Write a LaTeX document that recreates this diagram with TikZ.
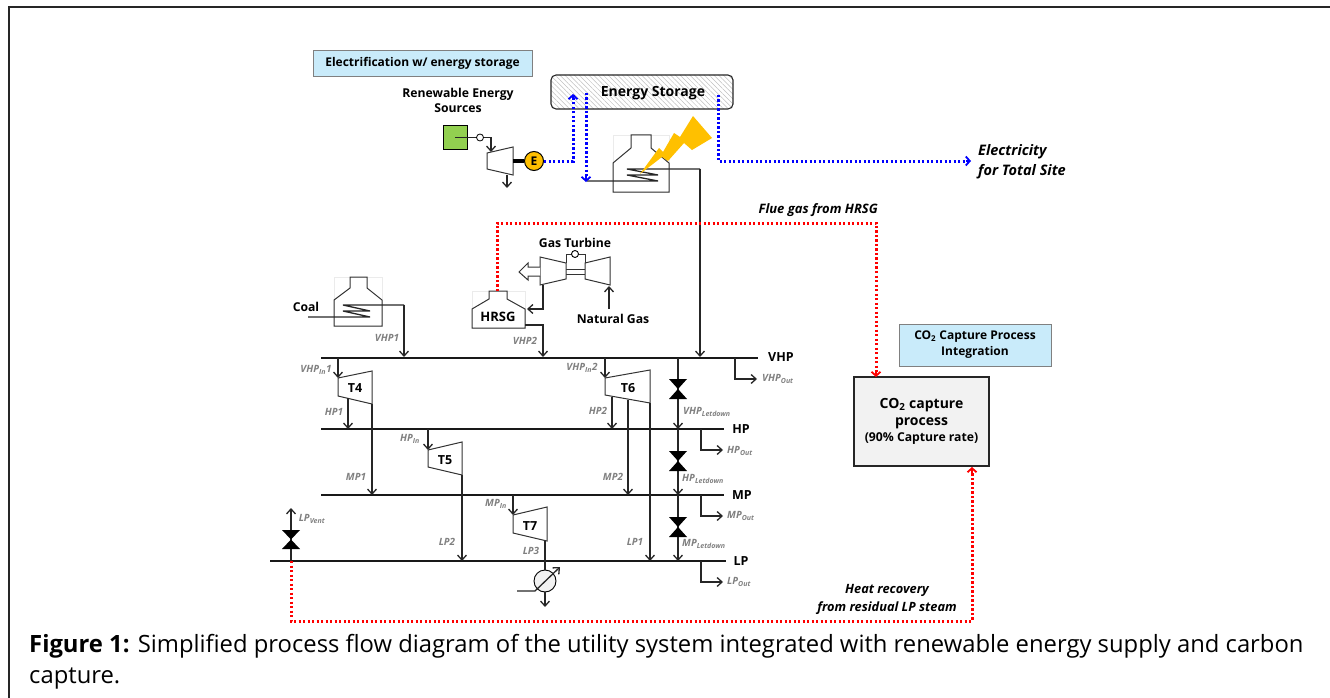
\documentclass[tikz,border=0pt]{standalone}
\usepackage{fontspec}
\setmainfont{Open Sans}
\usetikzlibrary{arrows.meta,patterns.meta}
\definecolor{bannerblue}{HTML}{C9EBFA}
\definecolor{sparkyellow}{HTML}{FFC000}
\definecolor{renewgreen}{HTML}{92D050}
\tikzset{
  steam/.style={line width=1.3pt, black!85},
  bus/.style={line width=2.6pt, black!90},
  unit/.style={line width=1pt, black!80, fill=white},
  frameline/.style={line width=0.4pt, black!8},
  bluelink/.style={draw=blue, line width=3pt, dash pattern=on 2.3pt off 2.2pt},
  redlink/.style={draw=red, line width=3pt, dash pattern=on 2.3pt off 2.2pt},
  banner/.style={draw=gray, line width=0.8pt, fill=bannerblue, font=\fontsize{12}{16}\selectfont\bfseries, align=center},
  unitlabel/.style={font=\fontsize{12.2}{15}\selectfont\bfseries, align=center, inner sep=0pt},
  buslabel/.style={font=\fontsize{12.5}{15}\selectfont\bfseries, inner sep=0pt},
  stream/.style={font=\fontsize{10}{12}\selectfont\bfseries\itshape, text=gray, inner sep=0pt},
  note/.style={font=\fontsize{14.5}{20}\selectfont\bfseries\itshape, align=center, inner sep=0pt},
  valve/.style={fill=black, draw=none}
}
\begin{document}
\begin{tikzpicture}[x=1pt, y=-1pt, >={Straight Barb[length=5pt, width=9pt, line width=1.3pt]}]
    \useasboundingbox (0,0) rectangle (1330,698);

    % Outer frame
    \coordinate (frametop) at (1330,7);
    \coordinate (framecorner) at (9,7);
    \coordinate (framebottom) at (9,698);
    \draw[line width=2pt, black!85] (frametop) -- (framecorner) -- (framebottom);

    % Banners
    \node[banner, minimum width=219pt, minimum height=26pt] (elecbanner) at (422.5,63) {Electrification w/ energy storage};
    \node[banner, minimum width=152pt, minimum height=42pt, inner sep=0pt] (capbanner) at (975,345) {CO\textsubscript{2} Capture Process\\Integration};

    % Energy storage
    \draw[line width=1.1pt, black!85, rounded corners=5pt, pattern={Lines[angle=-45,distance=3.4pt,line width=0.5pt]}, pattern color=gray!50]
        (551,75) rectangle (733,109);
    \node[font=\fontsize{14}{18}\selectfont\bfseries, inner sep=0pt] (storage) at (653,93) {Energy Storage};

    % Renewable source and turbine
    \node[unitlabel] (renewtxt) at (458,100) {Renewable Energy\\Sources};
    \node[draw, line width=0.8pt, fill=renewgreen, minimum size=24pt, inner sep=0pt] (renew) at (455,137.5) {};
    \node[draw, line width=0.8pt, circle, fill=white, minimum size=7pt, inner sep=0pt] (renewknob) at (480,137.5) {};
    \draw[unit] (487,153) coordinate (rtin) -- (513,147) -- (513,175) -- (487,169) -- cycle;
    \coordinate (rtinlet) at (491,152);
    \coordinate (rtout) at (507,175);
    \coordinate (rtdrain) at (507,188);
    \draw[steam] (renew.center) -- (renewknob);
    \draw[steam, ->] (renewknob) -| (rtinlet);
    \draw[steam, ->] (rtout) -- (rtdrain);
    \node[draw, line width=1pt, circle, fill=sparkyellow, minimum size=19pt, inner sep=0pt, font=\fontsize{12}{14}\selectfont\bfseries] (gen) at (534,161) {E};
    \coordinate (rtshaft) at (513,161);
    \draw[line width=4pt] (rtshaft) -- (gen);

    % Electric boiler
    \draw[frameline] (613,135) rectangle (669,192);
    \draw[unit, fill=none] (613,192) -- (613,163) -- (631,148) -- (631,135) -- (651,135) -- (651,148) -- (669,163) -- (669,192) -- cycle;
    \coordinate (boilerin) at (587,181);
    \coordinate (boilerout) at (700,169);
    \coordinate (boilerdown) at (700,357);
    \draw[steam, line join=bevel] (boilerin) -- (658,181) -- (627,175) -- (658,175) -- (627,169) -- (boilerout);
    \draw[steam, ->] (boilerout) -- (boilerdown);
    \fill[sparkyellow] (640,174) -- (659,148) -- (663,152) -- (674,133) -- (680,137) -- (693,116) -- (712,138) -- (692,150) -- (684,143) -- (668,161) -- (662,157) -- cycle;

    % Electricity links
    \coordinate (storein) at (573,95);
    \coordinate (storeout) at (586,93);
    \coordinate (storesite) at (718,95);
    \coordinate (sitehead) at (971,161);
    \draw[bluelink] (gen.east) -| (storein);
    \draw[bluelink] (storeout) -- (586,178);
    \draw[bluelink] (storesite) |- (sitehead);
    \draw[blue, line width=1.8pt, {Straight Barb[length=4pt, width=9pt]}-] (573,94) -- (573,100);
    \draw[blue, line width=1.8pt, -{Straight Barb[length=4pt, width=9pt]}] (586,176) -- (586,182);
    \draw[blue, line width=1.8pt, -{Straight Barb[length=4pt, width=9pt]}] (966,161) -- (sitehead);
    \node[note, align=left, anchor=west] (sitetxt) at (978,162) {Electricity\\for Total Site};

    % Flue gas
    \node[note, anchor=east, font=\fontsize{13}{15}\selectfont\bfseries\itshape] (fluetxt) at (878,210) {Flue gas from HRSG};

    % Gas turbine
    \node[unitlabel] (gttxt) at (575,243) {Gas Turbine};
    \draw[unit] (566,263) -- (566,254) -- (585,254) -- (585,263);
    \draw[unit] (566,269.5) -- (585,269.5);
    \draw[unit] (566,274.5) -- (585,274.5);
    \draw[unit] (540,257) -- (566,263) -- (566,279) -- (540,285) -- cycle;
    \draw[unit] (610,257) -- (585,263) -- (585,279) -- (610,285) -- cycle;
    \node[draw, line width=0.9pt, circle, fill=white, minimum size=7pt, inner sep=0pt] (gtknob) at (575,254) {};
    \draw[unit] (540,267) -- (528,267) -- (528,263) -- (519,272) -- (528,280) -- (528,276) -- (540,276);
    \coordinate (gtout) at (543,285);
    \coordinate (hrsgin) at (527,309);
    \draw[steam, ->] (gtout) |- (hrsgin);
    \coordinate (fuelfoot) at (609,309);
    \coordinate (fuelhead) at (609,286);
    \draw[steam, ->] (fuelfoot) -- (fuelhead);
    \node[unitlabel] (fueltxt) at (613,319) {Natural Gas};

    % HRSG
    \draw[frameline] (472,291) rectangle (525,328);
    \draw[unit] (472,328) -- (472,309) -- (489,299) -- (489,291) -- (507,291) -- (507,299) -- (525,309) -- (525,328) -- cycle;
    \node[font=\fontsize{13}{16}\selectfont\bfseries, inner sep=0pt] (hrsg) at (498,317) {HRSG};
    \coordinate (hrsgtop) at (497,291);
    \coordinate (hrsgout) at (525,325);
    \coordinate (hrsgdown) at (543,357);
    \draw[steam, ->] (hrsgout) -| (hrsgdown);
    \node[stream] (vhptwo) at (525,341) {VHP2};

    % Coal boiler
    \node[unitlabel] (coal) at (306,307) {Coal};
    \draw[frameline] (334,277) rectangle (382,326);
    \draw[unit, fill=none] (334,326) -- (334,300) -- (350,288) -- (350,277) -- (367,277) -- (367,288) -- (382,300) -- (382,326) -- cycle;
    \coordinate (coalin) at (308,317);
    \coordinate (coalout) at (404,305);
    \coordinate (coaldown) at (404,357);
    \draw[steam, line join=bevel] (coalin) -- (370,317) -- (343,311) -- (370,311) -- (343,305) -- (coalout);
    \draw[steam, ->] (coalout) -- (coaldown);
    \node[stream] (vhpone) at (387,338) {VHP1};

    % Headers
    \coordinate (vhpL) at (321,358);
    \coordinate (vhpR) at (758,358);
    \coordinate (hpL) at (321,429);
    \coordinate (hpR) at (724,429);
    \coordinate (mpL) at (321,495);
    \coordinate (mpR) at (724,495);
    \coordinate (lpL) at (270,561);
    \coordinate (lpR) at (726,561);
    \draw[bus] (vhpL) -- (vhpR);
    \draw[bus] (hpL) -- (hpR);
    \draw[bus] (mpL) -- (mpR);
    \draw[bus] (lpL) -- (lpR);
    \node[buslabel] (vhp) at (781,357) {VHP};
    \node[buslabel] (hp) at (741,429) {HP};
    \node[buslabel] (mp) at (742,495) {MP};
    \node[buslabel] (lp) at (741,561) {LP};

    % T4
    \draw[unit] (338,378) coordinate (tfourin) -- (372,371) -- (372,404) coordinate (tfourmp) -- (338,396) -- cycle;
    \node[unitlabel, font=\fontsize{12.5}{15}\selectfont\bfseries] (tfour) at (355,388) {T4};
    \coordinate (tfourhp) at (348,398);
    \draw[steam, ->] (tfourin |- vhpL) -- (tfourin);
    \draw[steam, ->] (tfourhp) -- (tfourhp |- hpL);
    \draw[steam, ->] (tfourmp) -- (tfourmp |- mpL);
    \node[stream] (tfourlabel) at (316,370) {VHP\textsubscript{In}1};
    \node[stream] (hpone) at (334,412) {HP1};
    \node[stream] (mpone) at (356,477) {MP1};

    % T5
    \draw[unit] (428,450) coordinate (tfivein) -- (462,442) -- (462,475) coordinate (tfivelp) -- (428,467) -- cycle;
    \node[unitlabel, font=\fontsize{12.5}{15}\selectfont\bfseries] (tfive) at (445,460) {T5};
    \draw[steam, ->] (tfivein |- hpL) -- (tfivein);
    \draw[steam, ->] (tfivelp) -- (tfivelp |- lpL);
    \node[stream] (tfivelabel) at (410,439) {HP\textsubscript{In}};
    \node[stream] (lptwo) at (447,542) {LP2};

    % T7 and condenser
    \draw[unit] (513,515) coordinate (tsevenin) -- (547,507) -- (547,541) -- (513,533) -- cycle;
    \node[unitlabel, font=\fontsize{12.5}{15}\selectfont\bfseries] (tseven) at (530,526) {T7};
    \coordinate (tsevenlp) at (545,541);
    \draw[steam, ->] (tsevenin |- mpL) -- (tsevenin);
    \node[stream] (tsevenlabel) at (496,504) {MP\textsubscript{In}};
    \node[stream] (lpthree) at (531,551) {LP3};
    \node[draw, line width=0.9pt, circle, fill=black!5, minimum size=22pt, inner sep=0pt] (cond) at (545,581) {};
    \coordinate (condwater) at (517,591);
    \coordinate (condbend) at (535,591);
    \coordinate (condhead) at (560,567);
    \coordinate (conddrain) at (545,607);
    \draw[steam] (tsevenlp) -- (cond);
    \draw[steam, ->] (condwater) -- (condbend) -- (condhead);
    \draw[steam, ->] (cond) -- (conddrain);

    % T6
    \draw[unit] (605,378) coordinate (tsixin) -- (650,370) -- (650,403) coordinate (tsixlp) -- (605,395) -- cycle;
    \node[unitlabel, font=\fontsize{12.5}{15}\selectfont\bfseries] (tsix) at (628,388) {T6};
    \coordinate (tsixhp) at (612,397);
    \coordinate (tsixmp) at (628,400);
    \draw[steam, ->] (tsixin |- vhpL) -- (tsixin);
    \draw[steam, ->] (tsixhp) -- (tsixhp |- hpL);
    \draw[steam, ->] (tsixmp) -- (tsixmp |- mpL);
    \draw[steam, ->] (tsixlp) -- (tsixlp |- lpL);
    \node[stream] (tsixlabel) at (582,368) {VHP\textsubscript{In}2};
    \node[stream] (hptwo) at (598,411) {HP2};
    \node[stream] (mptwo) at (613,477) {MP2};
    \node[stream] (lpone) at (635,542) {LP1};

    % Letdown valves
    \coordinate (drop) at (678,358);
    \draw[steam, ->] (drop) -- (drop |- hpL);
    \draw[steam, ->] (drop |- hpL) -- (drop |- mpL);
    \draw[steam, ->] (drop |- mpL) -- (drop |- lpL);
    \fill[valve] (669,379) -- (687,379) -- (669,399) -- (687,399) -- cycle;
    \fill[valve] (669,451) -- (687,451) -- (669,471) -- (687,471) -- cycle;
    \fill[valve] (669,517) -- (687,517) -- (669,537) -- (687,537) -- cycle;
    \node[stream, anchor=west] (vhpdown) at (683,412) {VHP\textsubscript{Letdown}};
    \node[stream, anchor=west] (hpdown) at (682,479) {HP\textsubscript{Letdown}};
    \node[stream, anchor=west] (mpdown) at (682,544) {MP\textsubscript{Letdown}};

    % Steam outlets
    \coordinate (vhpoff) at (735,358);
    \coordinate (vhpend) at (757,379);
    \coordinate (hpoff) at (701,429);
    \coordinate (hpend) at (723,450);
    \coordinate (mpoff) at (701,495);
    \coordinate (mpend) at (723,516);
    \coordinate (lpoff) at (701,561);
    \coordinate (lpend) at (723,582);
    \draw[steam, ->] (vhpoff) |- (vhpend);
    \draw[steam, ->] (hpoff) |- (hpend);
    \draw[steam, ->] (mpoff) |- (mpend);
    \draw[steam, ->] (lpoff) |- (lpend);
    \node[stream, anchor=west] (vhpouttxt) at (762,379) {VHP\textsubscript{Out}};
    \node[stream, anchor=west] (hpouttxt) at (727,451) {HP\textsubscript{Out}};
    \node[stream, anchor=west] (mpouttxt) at (727,516) {MP\textsubscript{Out}};
    \node[stream, anchor=west] (lpouttxt) at (727,582) {LP\textsubscript{Out}};

    % Vent
    \coordinate (vent) at (291,561);
    \coordinate (venthead) at (291,508);
    \draw[steam, ->] (vent) -- (venthead);
    \fill[valve] (282,530) -- (300,530) -- (282,549) -- (300,549) -- cycle;
    \node[stream] (venttxt) at (312,519) {LP\textsubscript{Vent}};

    % CO2 capture
    \node[draw, line width=1.4pt, black!85, fill=black!5, text=black, minimum width=135pt, minimum height=89pt, inner sep=0pt, font=\fontsize{14}{17}\selectfont\bfseries, align=center] (capture) at (921.5,421.5)
        {CO\textsubscript{2} capture\\process\\[-1pt]{\fontsize{12.2}{15}\selectfont (90\% Capture rate)}};
    \coordinate (flueturn) at (876,223);
    \coordinate (fluehead) at (876,377);
    \coordinate (heatcorner) at (291,621);
    \coordinate (heatturn) at (972,621);
    \coordinate (heathead) at (972,467);
    \draw[redlink] (hrsgtop) |- (flueturn) -- (876,373);
    \draw[red, line width=1.8pt, -{Straight Barb[length=4pt, width=9pt]}] (876,371) -- (fluehead);
    \draw[redlink] (vent) -- (heatcorner) -- (heatturn) -- (972,472);
    \draw[red, line width=1.8pt, -{Straight Barb[length=4pt, width=9pt]}] (972,474) -- (heathead);
    \node[note, font=\fontsize{12.8}{18}\selectfont\bfseries\itshape] (heattxt) at (887,599) {Heat recovery\\from residual LP steam};

    % Caption
    \node[anchor=base west, inner sep=0pt, align=left, font=\fontsize{23.8}{31}\selectfont] (caption) at (29,683)
        {\textbf{Figure 1:} Simplified process flow diagram of the utility system integrated with renewable energy supply and carbon\\capture.};
\end{tikzpicture}
\end{document}
